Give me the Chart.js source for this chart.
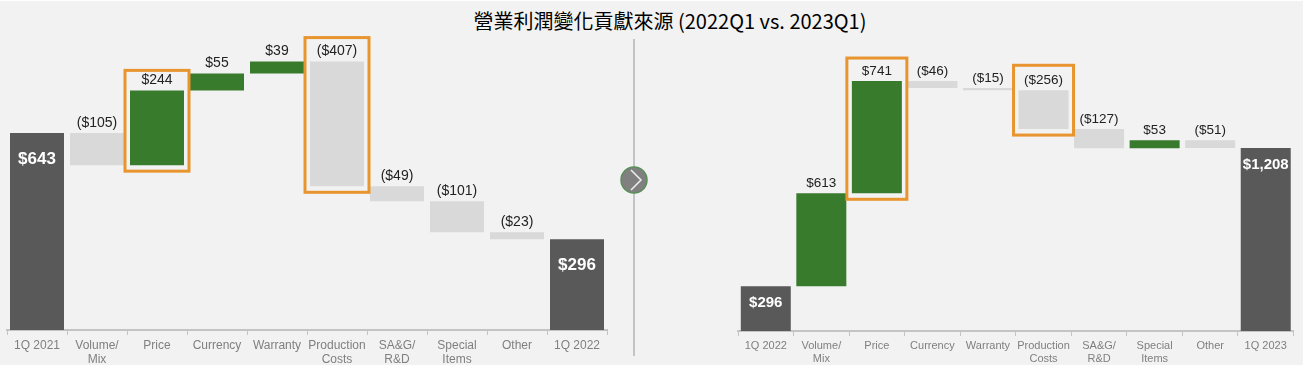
<!DOCTYPE html>
<html>
<head>
<meta charset="utf-8">
<title>營業利潤變化貢獻來源</title>
<script src="https://cdn.jsdelivr.net/npm/chart.js@4"></script>
<style>
  html, body { margin: 0; padding: 0; background: #fff; }
  #page { position: relative; width: 1303px; height: 366px; overflow: hidden; background: #fff; }
  #panel { position: absolute; left: 0; top: 1px; width: 1303px; height: 364px; background: #f2f2f2; }
  #title { position: absolute; left: 0; right: 0; top: 7px; padding-left: 37px; text-align: center; font: 400 20px "Noto Sans CJK TC", "Noto Sans"; color: #000; line-height: 28px; white-space: nowrap; }
  .wrap { position: absolute; top: 0; height: 366px; }
  #wrapLeft { left: 0; width: 620px; }
  #wrapRight { left: 720px; width: 583px; }
  #divider { position: absolute; left: 633px; top: 39px; width: 2px; height: 317px; background: #c4c4c4; }
  #arrow { position: absolute; left: 619px; top: 165px; }
</style>
</head>
<body>
<div id="page">
  <div id="panel"></div>
  <div id="title">營業利潤變化貢獻來源 (2022Q1 vs. 2023Q1)</div>
  <div id="divider"></div>
  <svg id="arrow" width="30" height="30">
    <circle cx="15" cy="15" r="13" fill="#808080" stroke="#5a8f5a" stroke-width="1.5"/>
    <polyline points="12,5 22,15 12,25" fill="none" stroke="#eee" stroke-width="1.5"/>
  </svg>
  <div class="wrap" id="wrapLeft"><canvas id="chartLeft" width="620" height="366"></canvas></div>
  <div class="wrap" id="wrapRight"><canvas id="chartRight" width="583" height="366"></canvas></div>
</div>
<script>
const leftCategories = ['1Q 2021', ['Volume/', 'Mix'], 'Price', 'Currency', 'Warranty', ['Production', 'Costs'], ['SA&G/', 'R&D'], ['Special', 'Items'], 'Other', '1Q 2022'];
const leftStart = 643;
const leftChanges = [-105, 244, 55, 39, -407, -49, -101, -23];
const leftEnd = 296;
const leftBoxed = [2, 5];

const rightCategories = ['1Q 2022', ['Volume/', 'Mix'], 'Price', 'Currency', 'Warranty', ['Production', 'Costs'], ['SA&G/', 'R&D'], ['Special', 'Items'], 'Other', '1Q 2023'];
const rightStart = 296;
const rightChanges = [613, 741, -46, -15, -256, -127, 53, -51];
const rightEnd = 1208;
const rightBoxed = [2, 5];

const DARK = '#595959';
const GREEN = '#397b2c';
const GREY = '#d9d9d9';
const ORANGE = '#e8952f';

function money(v) {
    const s = '$' + Math.abs(v).toLocaleString('en-US');
    return v < 0 ? '(' + s + ')' : s;
}

// turn start / changes / end into floating bars
function buildBars(start, changes, end) {
    const bars = [[0, start]];
    const colors = [DARK];
    const labels = [start];
    let total = start;
    changes.forEach(c => {
        bars.push([Math.min(total, total + c), Math.max(total, total + c)]);
        colors.push(c < 0 ? GREY : GREEN);
        labels.push(c);
        total += c;
    });
    bars.push([0, end]);
    colors.push(DARK);
    labels.push(end);
    return { bars, colors, labels };
}

// value labels: white inside the total bars, dark above the others
const valueLabels = {
    id: 'valueLabels',
    afterDatasetsDraw(chart, args, opts) {
        const ctx = chart.ctx;
        const last = opts.labels.length - 1;
        chart.getDatasetMeta(0).data.forEach((bar, i) => {
            const total = i === 0 || i === last;
            ctx.save();
            ctx.textAlign = 'center';
            ctx.textBaseline = 'middle';
            ctx.font = total ? 'bold ' + opts.totalSize + 'px "Liberation Sans"' : opts.size + 'px "Liberation Sans"';
            ctx.fillStyle = total ? '#fff' : '#222';
            const y = total ? bar.y + opts.insideGap : bar.y - opts.aboveGap;
            ctx.fillText(money(opts.labels[i]), bar.x, y);
            ctx.restore();
        });
    }
};

// orange frame round a bar and its label
const highlightBoxes = {
    id: 'highlightBoxes',
    afterDatasetsDraw(chart, args, opts) {
        const ctx = chart.ctx;
        const meta = chart.getDatasetMeta(0);
        opts.indexes.forEach((i, n) => {
            const bar = meta.data[i];
            const left = bar.x - bar.width / 2 - opts.side;
            const top = bar.y - opts.tops[n];
            ctx.save();
            ctx.strokeStyle = ORANGE;
            ctx.lineWidth = 3;
            ctx.strokeRect(left, top, bar.width + opts.side * 2, bar.base - bar.y + opts.tops[n] + opts.bottom);
            ctx.restore();
        });
    }
};

function makeChart(id, categories, start, changes, end, boxed, cfg) {
    const built = buildBars(start, changes, end);
    return new Chart(document.getElementById(id).getContext('2d'), {
        type: 'bar',
        data: {
            labels: categories,
            datasets: [{
                data: built.bars,
                backgroundColor: built.colors,
                borderWidth: 0,
                categoryPercentage: 1,
                barPercentage: 0.9
            }]
        },
        plugins: [highlightBoxes, valueLabels],
        options: {
            responsive: false,
            animation: false,
            layout: { padding: cfg.padding },
            plugins: {
                legend: { display: false },
                title: { display: false },
                tooltip: { enabled: false },
                valueLabels: { labels: built.labels, size: cfg.labelSize, totalSize: cfg.totalSize, aboveGap: cfg.aboveGap, insideGap: cfg.insideGap },
                highlightBoxes: { indexes: boxed, side: cfg.boxSide, tops: cfg.boxTops, bottom: cfg.boxBottom }
            },
            scales: {
                x: {
                    afterFit: s => { s.height = cfg.axisHeight; },
                    border: { color: '#c4c4c4', width: 2 },
                    grid: { drawOnChartArea: false, color: '#c4c4c4', tickLength: 5, offset: true },
                    ticks: {
                        color: '#7f7f7f',
                        font: { family: '"Liberation Sans"', size: cfg.tickSize, lineHeight: cfg.tickLine },
                        padding: 4,
                        maxRotation: 0,
                        autoSkip: false
                    }
                },
                y: { display: false, min: 0, max: cfg.yMax }
            }
        }
    });
}

makeChart('chartLeft', leftCategories, leftStart, leftChanges, leftEnd, leftBoxed, {
    padding: { left: 7, right: 13, top: 0, bottom: 0 },
    yMax: 1077, axisHeight: 36, labelSize: 14, totalSize: 17, tickSize: 12, tickLine: 1.15,
    aboveGap: 10, insideGap: 26, boxSide: 5, boxTops: [20, 24], boxBottom: 6
});

makeChart('chartRight', rightCategories, rightStart, rightChanges, rightEnd, rightBoxed, {
    padding: { left: 18, right: 9.5, top: 0, bottom: 0 },
    yMax: 2185, axisHeight: 35, labelSize: 13.5, totalSize: 15, tickSize: 11, tickLine: 1.15,
    aboveGap: 10, insideGap: 17, boxSide: 5, boxTops: [23, 25], boxBottom: 6
});
</script>
</body>
</html>
